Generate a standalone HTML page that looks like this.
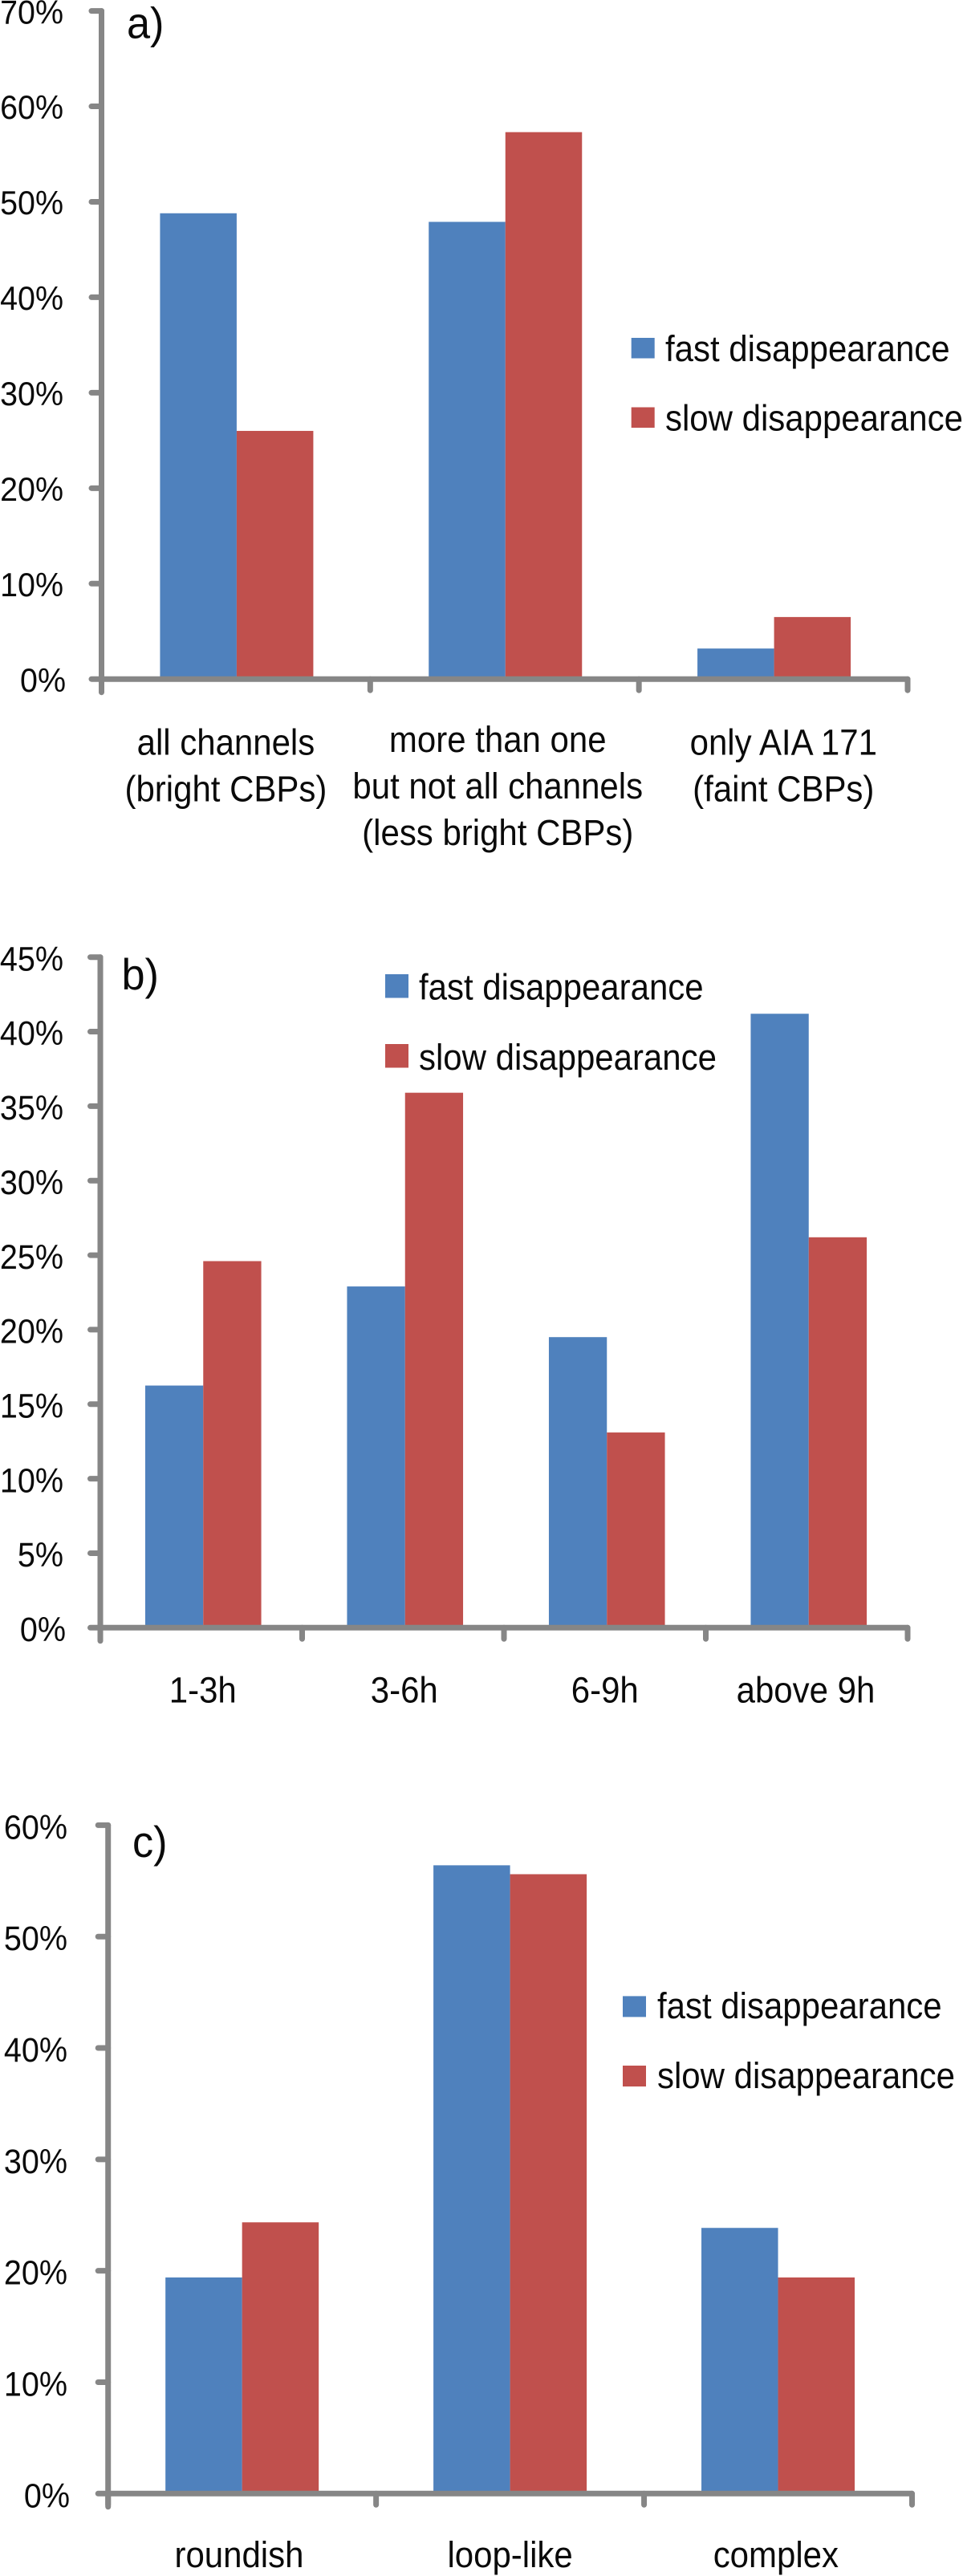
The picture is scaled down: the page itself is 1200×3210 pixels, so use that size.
<!DOCTYPE html>
<html lang="en">
<head>
<meta charset="utf-8">
<title>CBP disappearance charts</title>
<style>
html,body{margin:0;padding:0;background:#fff;}
svg{display:block;}
text{font-family:"Liberation Sans",sans-serif;fill:#0a0a0a;}
</style>
</head>
<body>
<svg id="figure" xmlns="http://www.w3.org/2000/svg" width="1200" height="3210" viewBox="0 0 1200 3210"></svg>
<script>
// Panel a
const aCategories = [["all channels","(bright CBPs)"],["more than one","but not all channels","(less bright CBPs)"],["only AIA 171","(faint CBPs)"]];
const aFast = [48.8, 47.9, 3.2];
const aSlow = [26.0, 57.3, 6.5];
const aTicks = [0,10,20,30,40,50,60,70];
// Panel b
const bCategories = [["1-3h"],["3-6h"],["6-9h"],["above 9h"]];
const bFast = [16.25, 22.9, 19.5, 41.2];
const bSlow = [24.6, 35.9, 13.1, 26.2];
const bTicks = [0,5,10,15,20,25,30,35,40,45];
// Panel c
const cCategories = [["roundish"],["loop-like"],["complex"]];
const cFast = [19.4, 56.4, 23.85];
const cSlow = [24.35, 55.6, 19.4];
const cTicks = [0,10,20,30,40,50,60];
const seriesNames = ["fast disappearance","slow disappearance"];

const COLORS = ["#4f81bd","#c0504d"];
const AXIS = "#868686";
const NS = "http://www.w3.org/2000/svg";
const root = document.getElementById("figure");

function node(tag, attrs, parent, txt){
  const el = document.createElementNS(NS, tag);
  for (const k in attrs) el.setAttribute(k, attrs[k]);
  if (txt !== undefined) el.textContent = txt;
  parent.appendChild(el);
  return el;
}

// text narrowed horizontally to mimic the condensed proportions of the original face
function label(parent, x, y, txt, size, sx, anchor){
  return node("text", {
    transform: "translate(" + x + " " + y + ") scale(" + sx + " 1)",
    "text-anchor": anchor,
    "font-size": size
  }, parent, txt);
}

function drawPanel(p){
  const g = node("g", {}, root);
  
  
  const max = p.ticks[p.ticks.length - 1];
  const yScale = v => p.y0 - (v / max) * (p.y0 - p.yTop);
  const band = (p.xEnd - p.x0) / p.categories.length;
  const xCenter = i => p.x0 + band * (i + 0.5);

  // bars
  [p.fast, p.slow].forEach((vals, s) => {
    vals.forEach((v, i) => {
      const bar = node("rect", {
        x: xCenter(i) + p.barShift + (s === 0 ? -p.barW : 0),
        y: yScale(v),
        width: p.barW,
        height: p.y0 - yScale(v),
        fill: COLORS[s]
      }, g);
      
      
    });
  });

  // y axis
  const yAxis = node("line", {x1:p.x0, x2:p.x0, y1:p.yTop, y2:p.y0+16.5, stroke:AXIS, "stroke-width":7, "stroke-linecap":"round"}, g);
  
  
  p.ticks.forEach(t => {
    const y = yScale(t);
    const tick = node("line", {x1:p.x0-12.5, x2:p.x0, y1:y, y2:y, stroke:AXIS, "stroke-width":7, "stroke-linecap":"round"}, g);
    
    
    const lab = label(g, p.yLabelX + (t === 0 ? 3 : 0), y + p.yLabelDy, t + "%", p.yFont, p.ySx, "end");
    
    
  });

  // x axis
  const xAxis = node("line", {x1:p.x0, x2:p.xEnd, y1:p.y0, y2:p.y0, stroke:AXIS, "stroke-width":7, "stroke-linecap":"round"}, g);
  
  
  for (let i = 0; i <= p.categories.length; i++){
    const x = p.x0 + band * i;
    const tick = node("line", {x1:x, x2:x, y1:p.y0, y2:p.y0+14, stroke:AXIS, "stroke-width":7, "stroke-linecap":"round"}, g);
    
    
  }

  // category labels
  p.categories.forEach((lines, i) => {
    lines.forEach((line, j) => {
      const lab = label(g, xCenter(i) + p.labelNudge[i], p.labelY + p.labelDy[i] + j * 58, line, 45, 0.933, "middle");
      
      
    });
  });

  // panel letter
  const letter = label(g, p.letterX, p.letterY, p.id + ")", 55, 0.95, "start");
  
  

  // legend
  seriesNames.forEach((name, s) => {
    const swatch = node("rect", {x:p.legX, y:p.legY[s], width:p.legW, height:p.legH, fill:COLORS[s]}, g);
    
    
    const t = label(g, p.legTextX, p.legBase[s], name, 45, 0.933, "start");
    
    
  });
}

drawPanel({id:"a", categories:aCategories, fast:aFast, slow:aSlow, ticks:aTicks,
  x0:126.5, xEnd:1131, y0:846.2, yTop:13.6, barW:95.5, barShift:1,
  yLabelX:79, yLabelDy:15.7, yFont:41.5, ySx:0.95,
  labelY:940.7, labelDy:[0,-3.5,0], labelNudge:[-12.5,-8.5,12.7],
  letterX:158, letterY:47.7,
  legX:786.7, legW:29, legH:25.5, legY:[421,507.5], legTextX:829, legBase:[450,536.7]});

drawPanel({id:"b", categories:bCategories, fast:bFast, slow:bSlow, ticks:bTicks,
  x0:125, xEnd:1131, y0:2028.3, yTop:1192.7, barW:72.3, barShift:2.5,
  yLabelX:79, yLabelDy:16.7, yFont:43, ySx:0.92,
  labelY:2121.7, labelDy:[0,0,0,0], labelNudge:[2,1.5,0,-1.3],
  letterX:151.5, letterY:1233,
  legX:480, legW:29, legH:29.5, legY:[1214,1301], legTextX:522, legBase:[1245.7,1333]});

drawPanel({id:"c", categories:cCategories, fast:cFast, slow:cSlow, ticks:cTicks,
  x0:134.7, xEnd:1136.5, y0:3107.3, yTop:2274.4, barW:95.5, barShift:0,
  yLabelX:84, yLabelDy:17, yFont:43, ySx:0.92,
  labelY:3199, labelDy:[0,0,0], labelNudge:[-3.7,0,-2.7],
  letterX:165, letterY:2314,
  legX:776, legW:29, legH:26, legY:[2487.4,2574], legTextX:819, legBase:[2515,2602]});
</script>
</body>
</html>
